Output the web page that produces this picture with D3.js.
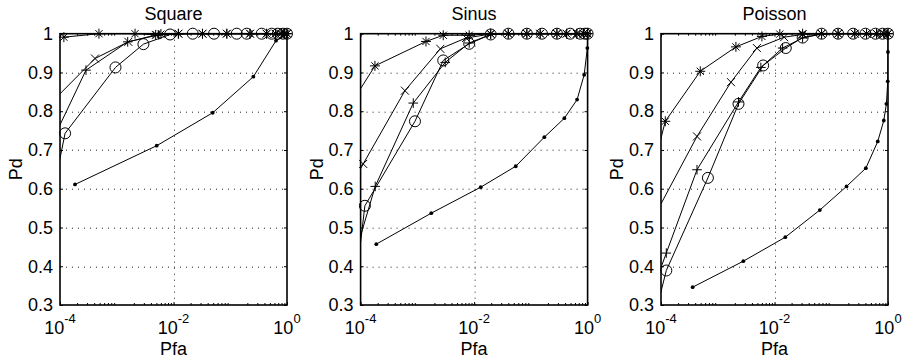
<!DOCTYPE html>
<html><head><meta charset="utf-8">
<script src="https://cdn.jsdelivr.net/npm/d3@7/dist/d3.min.js"></script>
<style>body{margin:0;background:#fff} svg{display:block;font-family:"Liberation Sans",Arial,Helvetica,sans-serif}</style>
</head><body><svg id="chart" width="906" height="362"></svg>
<script>
// ---------- data ----------
const panelTitles = ["Square", "Sinus", "Poisson"];
const xLabel = "Pfa";
const yLabel = "Pd";
const xTickValues = [1e-4, 1e-2, 1];
const xTickExponents = ["-4", "-2", "0"];
const yTickValues = [0.3, 0.4, 0.5, 0.6, 0.7, 0.8, 0.9, 1];
const yTickLabels = ["0.3", "0.4", "0.5", "0.6", "0.7", "0.8", "0.9", "1"];
const seriesMarkers = ["star", "x", "plus", "circle", "dot"];

// [Pfa, Pd] pairs
const squareStar = [[1.17e-4,0.991],[4.86e-4,1],[2.1e-3,1],[4.85e-3,0.997],[6.0e-3,0.999],[1.22e-2,1],[3.24e-2,1],[8.7e-2,1],[0.223,1],[0.437,1],[0.63,1],[0.79,1],[0.91,1],[1,1]];
const squareX = [[3.16e-5,0.771],[4.14e-4,0.936],[1.6e-3,0.979],[5.0e-3,0.997],[1.22e-2,1],[3.24e-2,1],[8.7e-2,1],[0.223,1],[0.437,1],[0.63,1],[0.79,1],[0.91,1],[1,1]];
const squarePlus = [[5.0e-5,0.672],[2.87e-4,0.906],[1.56e-3,0.979],[5.5e-3,0.997],[1.22e-2,1],[3.24e-2,1],[8.7e-2,1],[0.223,1],[0.437,1],[0.63,1],[0.79,1],[0.91,1],[1,1]];
const squareCircle = [[6.3e-5,0.535],[1.23e-4,0.743],[9.5e-4,0.913],[2.95e-3,0.973],[8.7e-3,0.998],[2.18e-2,1],[5.18e-2,1],[0.13,1],[0.195,1],[0.358,1],[0.537,1],[0.69,1],[0.85,1],[1,1]];
const squareDot = [[1.84e-4,0.611],[5.06e-3,0.711],[4.91e-2,0.796],[0.255,0.889],[0.64,0.982],[1,1]];

const sinusStar = [[3.16e-5,0.742],[1.79e-4,0.917],[1.42e-3,0.980],[2.86e-3,0.996],[8.2e-3,0.996],[1.96e-2,1],[4.0e-2,1],[8.5e-2,1],[0.146,1],[0.288,1],[0.427,1],[0.646,1],[0.85,1],[1,1]];
const sinusX = [[6.3e-5,0.599],[1.11e-4,0.664],[6.04e-4,0.853],[2.54e-3,0.961],[7.2e-3,0.989],[1.96e-2,0.999],[4.0e-2,1],[8.5e-2,1],[0.146,1],[0.288,1],[0.427,1],[0.646,1],[0.85,1],[1,1]];
const sinusPlus = [[6.3e-5,0.38],[1.81e-4,0.606],[8.47e-4,0.821],[3.1e-3,0.926],[8.2e-3,0.976],[1.96e-2,0.998],[4.0e-2,1],[8.5e-2,1],[0.146,1],[0.288,1],[0.427,1],[0.646,1],[0.85,1],[1,1]];
const sinusCircle = [[7.9e-5,0.335],[1.19e-4,0.556],[9.08e-4,0.774],[2.86e-3,0.931],[8.2e-3,0.974],[1.96e-2,0.998],[4.03e-2,1],[8.5e-2,1],[0.157,1],[0.288,1],[0.495,1],[0.74,1],[0.9,1],[1,1]];
const sinusDot = [[1.89e-4,0.457],[1.76e-3,0.537],[1.31e-2,0.604],[5.42e-2,0.658],[0.173,0.733],[0.39,0.782],[0.653,0.830],[0.87,0.894],[0.99,0.963],[1,1]];

const poissonStar = [[6.3e-5,0.616],[1.19e-4,0.774],[4.92e-4,0.903],[2.09e-3,0.966],[6.0e-3,0.993],[1.24e-2,0.999],[3.13e-2,1],[6.75e-2,1],[0.132,1],[0.26,1],[0.419,1],[0.63,1],[0.85,1],[1,1]];
const poissonX = [[3.16e-5,0.424],[4.31e-4,0.735],[1.71e-3,0.875],[4.9e-3,0.963],[1.48e-2,0.991],[3.13e-2,0.998],[6.75e-2,1],[0.132,1],[0.26,1],[0.419,1],[0.63,1],[0.85,1],[1,1]];
const poissonPlus = [[6.3e-5,0.317],[1.24e-4,0.434],[4.31e-4,0.649],[2.32e-3,0.824],[5.75e-3,0.913],[1.39e-2,0.963],[3.13e-2,0.989],[6.75e-2,0.999],[0.132,1],[0.26,1],[0.419,1],[0.63,1],[0.85,1],[1,1]];
const poissonCircle = [[7.9e-5,0.275],[1.24e-4,0.389],[6.71e-4,0.628],[2.32e-3,0.819],[6.31e-3,0.918],[1.58e-2,0.963],[3.13e-2,0.99],[6.75e-2,1],[0.132,1],[0.243,1],[0.40,1],[0.6,1],[0.8,1],[1,1]];
const poissonDot = [[3.61e-4,0.346],[2.82e-3,0.413],[1.55e-2,0.475],[6.3e-2,0.545],[0.186,0.606],[0.407,0.653],[0.66,0.722],[0.843,0.776],[0.937,0.819],[0.99,0.877],[0.998,0.953],[1,1]];

const panelSeries = [
  [squareStar, squareX, squarePlus, squareCircle, squareDot],
  [sinusStar, sinusX, sinusPlus, sinusCircle, sinusDot],
  [poissonStar, poissonX, poissonPlus, poissonCircle, poissonDot]
];

// ---------- layout ----------
const panelLeft = [60, 360.6, 661];
const W = 227, plotTop = 33.7, H = 271.3;
const svg = d3.select("#chart");
const fontSize = 18;

const markerPaths = {
  star: "M-5,0H5M0,-5V5M-3.6,-3.6L3.6,3.6M-3.6,3.6L3.6,-3.6",
  x: "M-4,-4L4,4M-4,4L4,-4",
  plus: "M-4.8,0H4.8M0,-4.8V4.8"
};

panelSeries.forEach((series, p) => {
  const g = svg.append("g").attr("transform", `translate(${panelLeft[p]},${plotTop})`);
  const x = d3.scaleLog().domain([1e-4, 1]).range([0, W]);
  const y = d3.scaleLinear().domain([0.3, 1]).range([H, 0]);

  // grid
  const grid = g.append("g").attr("stroke", "#222").attr("stroke-width", 1).attr("stroke-dasharray", "1,5");
  grid.selectAll(".gx").data(xTickValues.slice(1, -1)).join("line")
    .attr("x1", d => Math.round(x(d)) + 0.5).attr("x2", d => Math.round(x(d)) + 0.5)
    .attr("y1", 0).attr("y2", H);
  grid.selectAll(".gy").data(yTickValues.slice(1, -1)).join("line")
    .attr("y1", d => Math.round(y(d)) + 0.5).attr("y2", d => Math.round(y(d)) + 0.5)
    .attr("x1", 0).attr("x2", W);

  // axes
  const minorTicks = [];
  for (let e = -4; e < 0; e++) for (let m = 2; m <= 9; m++) minorTicks.push(m * Math.pow(10, e));

  const yAxis = g.append("g").call(d3.axisLeft(y).tickValues(yTickValues)
      .tickFormat((d, i) => yTickLabels[i]).tickSizeInner(-3).tickSizeOuter(0).tickPadding(7));
  yAxis.selectAll("text").attr("font-size", fontSize).attr("font-family", "Liberation Sans, Arial, sans-serif").attr("fill", "#000");
  g.append("g").attr("transform", `translate(${W},0)`)
    .call(d3.axisRight(y).tickValues(yTickValues).tickFormat("").tickSizeInner(-3).tickSizeOuter(0));

  g.append("g").attr("transform", `translate(0,${H})`)
    .call(d3.axisBottom(x).tickValues(xTickValues).tickFormat("").tickSizeInner(-3).tickSizeOuter(0));
  g.append("g").attr("transform", `translate(0,${H})`)
    .call(d3.axisBottom(x).tickValues(minorTicks).tickFormat("").tickSizeInner(-2).tickSizeOuter(0));
  g.append("g").call(d3.axisTop(x).tickValues(xTickValues).tickFormat("").tickSizeInner(-3).tickSizeOuter(0));
  g.append("g").call(d3.axisTop(x).tickValues(minorTicks).tickFormat("").tickSizeInner(-2).tickSizeOuter(0));
  g.selectAll(".domain").remove();

  // x tick labels 10^n
  const xl = g.append("g").attr("font-size", fontSize).attr("fill", "#000");
  xTickValues.forEach((v, i) => {
    const t = xl.append("text").attr("x", x(v)).attr("y", H + 29).attr("text-anchor", "middle");
    t.append("tspan").text("10");
    t.append("tspan").attr("dy", -11).attr("font-size", 13).text(xTickExponents[i]);
  });

  // box
  g.append("rect").attr("x", 0).attr("y", 0).attr("width", W).attr("height", H)
    .attr("fill", "none").attr("stroke", "#000").attr("stroke-width", 1.6);

  // clip
  const clipId = "clip" + p;
  g.append("clipPath").attr("id", clipId).append("rect").attr("width", W).attr("height", H);

  const line = d3.line().x(d => x(d[0])).y(d => y(d[1]));
  series.forEach((data, s) => {
    g.append("path").datum(data).attr("d", line).attr("fill", "none")
      .attr("stroke", "#000").attr("stroke-width", 1).attr("clip-path", `url(#${clipId})`);
    const pts = data.filter(d => d[0] >= 1e-4 && d[0] <= 1 && d[1] >= 0.3 && d[1] <= 1);
    const mk = seriesMarkers[s];
    const mg = g.append("g");
    if (mk === "circle") {
      mg.selectAll("circle").data(pts).join("circle")
        .attr("cx", d => x(d[0])).attr("cy", d => y(d[1])).attr("r", 5.5)
        .attr("fill", "none").attr("stroke", "#000").attr("stroke-width", 1);
    } else if (mk === "dot") {
      mg.selectAll("circle").data(pts).join("circle")
        .attr("cx", d => x(d[0])).attr("cy", d => y(d[1])).attr("r", 1.9).attr("fill", "#000");
    } else {
      mg.selectAll("path").data(pts).join("path")
        .attr("transform", d => `translate(${x(d[0])},${y(d[1])})`)
        .attr("d", markerPaths[mk]).attr("fill", "none").attr("stroke", "#000").attr("stroke-width", 1);
    }
  });

  // titles & labels
  g.append("text").attr("x", W / 2).attr("y", -13.7).attr("text-anchor", "middle")
    .attr("font-size", fontSize).text(panelTitles[p]);
  g.append("text").attr("x", W / 2).attr("y", H + 50).attr("text-anchor", "middle")
    .attr("font-size", fontSize).text(xLabel);
  g.append("text").attr("transform", `translate(-38,${H / 2}) rotate(-90)`).attr("text-anchor", "middle")
    .attr("font-size", fontSize).text(yLabel);
});
</script></body></html>
